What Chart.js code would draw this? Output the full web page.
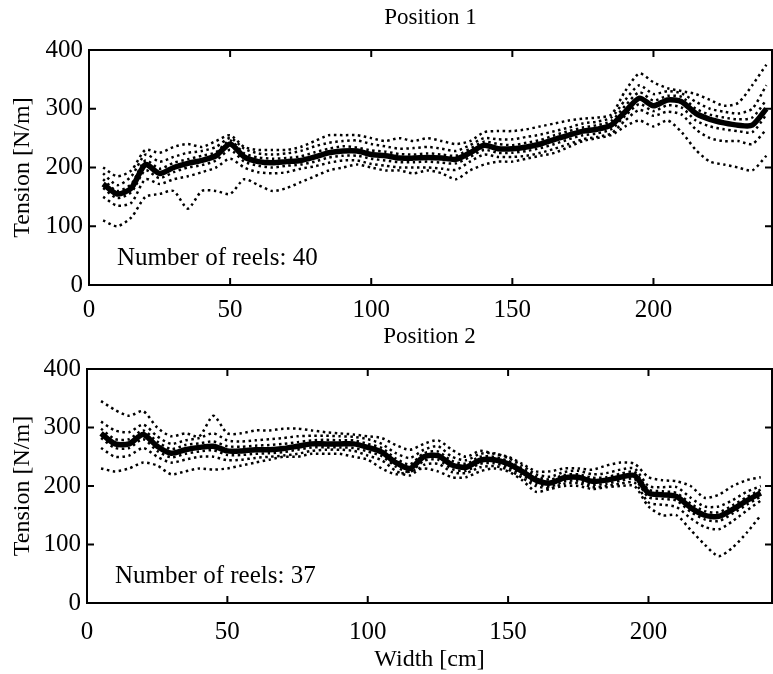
<!DOCTYPE html>
<html>
<head>
<meta charset="utf-8">
<script src="https://cdn.jsdelivr.net/npm/chart.js@4"></script>
<style>
    body{ margin:0; background:#fff; }
    canvas{ display:block; }
</style>
</head>
<body>
<canvas id="graphPos1" width="773" height="322"></canvas>
<canvas id="graphPos2" width="773" height="352"></canvas>
<script>

// width positions along the reel [cm]
const widths = [5,10,15,20,25,30,35,40,45,50,55,60,65,70,75,80,85,90,95,100,105,110,115,120,
    125,130,135,140,145,150,155,160,165,170,175,180,185,190,195,200,205,210,215,220,225,230,235,240];

const xTicks = [0, 50, 100, 150, 200];
const yTicks = [0, 100, 200, 300, 400];
const panelTitles = ["Position 1", "Position 2"];
const reelCounts = [40, 37];

// Position 1 - mean tension and a few of the single reels
const meanPos1 = [172,155,165,205,190,200,207,212,220,240,218,210,208,210,212,218,225,228,228,222,220,216,216,217,
    216,214,225,238,232,232,235,240,248,255,262,265,272,295,318,305,315,312,292,282,276,272,272,300];
const highPos1 = [200,185,195,230,225,235,240,235,245,255,235,230,230,230,235,245,255,255,255,250,245,250,245,250,
    245,240,245,260,262,262,265,270,275,280,283,285,290,330,360,345,335,330,325,315,305,310,340,375];
const lowPos1 = [110,100,115,150,155,160,130,160,160,155,180,170,160,165,175,185,195,200,205,200,195,195,190,195,
    190,180,195,205,210,210,215,220,225,235,245,250,255,270,280,270,280,260,230,210,205,200,195,220];
const reelAPos1 = [190,170,185,222,210,218,225,228,235,250,232,224,222,224,228,236,242,245,246,240,236,232,233,235,
    232,228,238,250,248,248,252,256,262,268,275,278,285,315,340,325,330,326,312,300,295,292,300,340];
const reelBPos1 = [150,135,140,180,172,180,185,192,200,215,200,192,190,192,198,202,208,212,212,206,203,200,200,200,
    198,196,210,222,218,218,220,225,232,240,248,252,258,280,298,288,295,290,265,250,245,245,240,265];
const reelCPos1 = [180,160,172,212,198,208,214,220,226,246,224,217,215,216,219,226,232,236,234,229,227,223,222,224,
    222,220,232,244,240,238,242,247,255,262,268,272,279,305,328,314,322,320,300,290,285,282,285,315];
const reelDPos1 = [165,148,158,195,182,192,200,204,212,230,210,203,200,203,205,210,217,220,220,215,212,209,209,210,
    208,207,218,230,225,225,228,233,240,248,255,258,265,288,308,296,306,302,280,270,265,262,260,290];

// Position 2
const meanPos2 = [290,272,272,288,268,256,262,266,268,260,260,262,262,264,268,272,272,272,272,266,258,240,230,250,
    252,236,232,244,245,238,225,210,205,214,215,208,210,215,218,188,185,182,163,150,148,160,175,188];
const highPos2 = [345,330,320,328,300,285,290,285,320,290,290,295,295,298,298,295,292,290,288,285,282,270,262,272,
    278,262,250,260,255,250,238,225,225,230,230,228,235,240,238,215,210,208,200,180,185,200,210,215];
const lowPos2 = [230,225,230,240,235,220,225,230,228,230,235,240,245,250,250,255,255,255,250,245,230,220,225,230,
    225,215,215,225,230,225,210,190,195,200,200,195,198,200,200,165,150,150,125,100,80,95,120,150];
const reelAPos2 = [310,295,292,305,285,272,278,282,290,278,276,278,280,282,285,286,286,285,284,280,272,256,248,262,
    268,250,244,255,256,248,235,220,216,224,226,220,222,228,230,200,198,198,180,165,165,176,190,200];
const reelBPos2 = [265,250,252,265,250,240,245,250,250,244,245,248,250,252,255,260,262,262,260,252,244,226,218,236,
    238,224,222,232,234,228,214,200,196,204,205,198,200,204,206,172,168,164,145,130,126,140,158,175];
const reelCPos2 = [298,280,280,295,276,263,270,273,276,268,267,269,270,272,275,278,279,278,278,272,265,247,237,256,
    259,243,238,250,250,243,230,216,211,219,220,214,215,221,224,194,191,188,170,157,155,167,181,194];
const reelDPos2 = [282,265,265,280,260,249,255,259,261,253,253,255,256,258,262,266,266,266,265,259,251,233,224,243,
    245,229,226,238,239,232,219,204,199,208,209,202,204,209,212,181,178,175,156,143,140,153,168,182];


const serif = "'Liberation Serif', 'DejaVu Serif', serif";


function toPoints(values){
    return values.map((v, i) => ({x: widths[i], y: v}));
};


function reelDataset(values){
    return {
        data: toPoints(values),
        borderColor: '#000',
        borderWidth: 2.5,
        borderDash: [2.5, 3.5],
        pointRadius: 0,
        tension: 0.25
    };
};


// box round the plot, ticks pointing inwards and the reel count text
const frameTicks = {
    id: 'frameTicks',
    afterDatasetsDraw(chart, args, opts){
        const ctx = chart.ctx;
        const a = chart.chartArea;
        const x = chart.scales.x;
        const y = chart.scales.y;
        const len = 7;

        ctx.save();
        ctx.strokeStyle = '#000';
        ctx.lineWidth = 2;
        ctx.strokeRect(a.left, a.top, a.right - a.left, a.bottom - a.top);

        ctx.beginPath();
        xTicks.forEach(t => {
            let px = x.getPixelForValue(t);
            ctx.moveTo(px, a.bottom); ctx.lineTo(px, a.bottom - len);
            ctx.moveTo(px, a.top); ctx.lineTo(px, a.top + len);
        });
        yTicks.forEach(t => {
            let py = y.getPixelForValue(t);
            ctx.moveTo(a.left, py); ctx.lineTo(a.left + len, py);
            ctx.moveTo(a.right, py); ctx.lineTo(a.right - len, py);
        });
        ctx.stroke();

        ctx.fillStyle = '#000';
        ctx.font = "25px " + serif;
        ctx.textBaseline = 'middle';
        ctx.fillText(opts.text, a.left + 28, a.bottom - 27);
        ctx.restore();
    }
};


function buildPanel(canvasId, idx, series, opt){

    const canvas = document.getElementById(canvasId).getContext('2d');
    const datasets = [{
        data: toPoints(series[0]),
        borderColor: '#000',
        borderWidth: 5.5,
        pointRadius: 0,
        tension: 0.25
    }];
    for(let i = 1; i < series.length; i++){
        datasets.push(reelDataset(series[i]));
    };

    new Chart(canvas, {
        type: 'line',
        data: { datasets: datasets },
        options:{
            responsive: false,
            animation: false,
            layout:{
                padding:{ left: 0, right: 1, top: 0, bottom: 0 }
            },
            scales:{
                x:{
                    type: 'linear',
                    min: 0,
                    max: opt.xMax,
                    afterFit: s => { s.height = opt.xHeight; },
                    afterBuildTicks: s => { s.ticks = xTicks.map(v => ({value: v})); },
                    grid:{ display: false, drawTicks: false },
                    border:{ display: false },
                    ticks:{
                        color: '#000',
                        padding: opt.xPad,
                        maxRotation: 0,
                        font:{ family: serif, size: 25 }
                    },
                    title:{
                        display: opt.xTitle !== '',
                        text: opt.xTitle,
                        color: '#000',
                        padding: { top: 0, bottom: 0 },
                        font:{ family: serif, size: 24 }
                    }
                },
                y:{
                    min: 0,
                    max: 400,
                    afterFit: s => { s.width = opt.left; },
                    afterBuildTicks: s => { s.ticks = yTicks.map(v => ({value: v})); },
                    grid:{ display: false, drawTicks: false },
                    border:{ display: false },
                    ticks:{
                        color: '#000',
                        padding: 6,
                        font:{ family: serif, size: 25 }
                    },
                    title:{
                        display: true,
                        text: 'Tension [N/m]',
                        color: '#000',
                        padding: { top: 8, bottom: 0 },
                        font:{ family: serif, size: 24 }
                    }
                }
            },
            plugins:{
                legend:{ display: false },
                tooltip:{ enabled: false },
                title:{
                    display: true,
                    fullSize: false,
                    text: panelTitles[idx],
                    color: '#000',
                    font:{ family: serif, size: 23, weight: 'normal' },
                    padding:{ top: opt.titleTop, bottom: opt.titleBottom }
                },
                frameTicks:{ text: `Number of reels: ${reelCounts[idx]}` }
            }
        },
        plugins: [frameTicks]
    });
};


buildPanel('graphPos1', 0,
    [meanPos1, highPos1, lowPos1, reelAPos1, reelBPos1, reelCPos1, reelDPos1],
    { xMax: 242, left: 89, xHeight: 37, xPad: 10, xTitle: '', titleTop: 4, titleBottom: 18.4 });

buildPanel('graphPos2', 1,
    [meanPos2, highPos2, lowPos2, reelAPos2, reelBPos2, reelCPos2, reelDPos2],
    { xMax: 244, left: 87, xHeight: 71, xPad: 14, xTitle: 'Width [cm]', titleTop: 1, titleBottom: 18.4 });

</script>
</body>
</html>
